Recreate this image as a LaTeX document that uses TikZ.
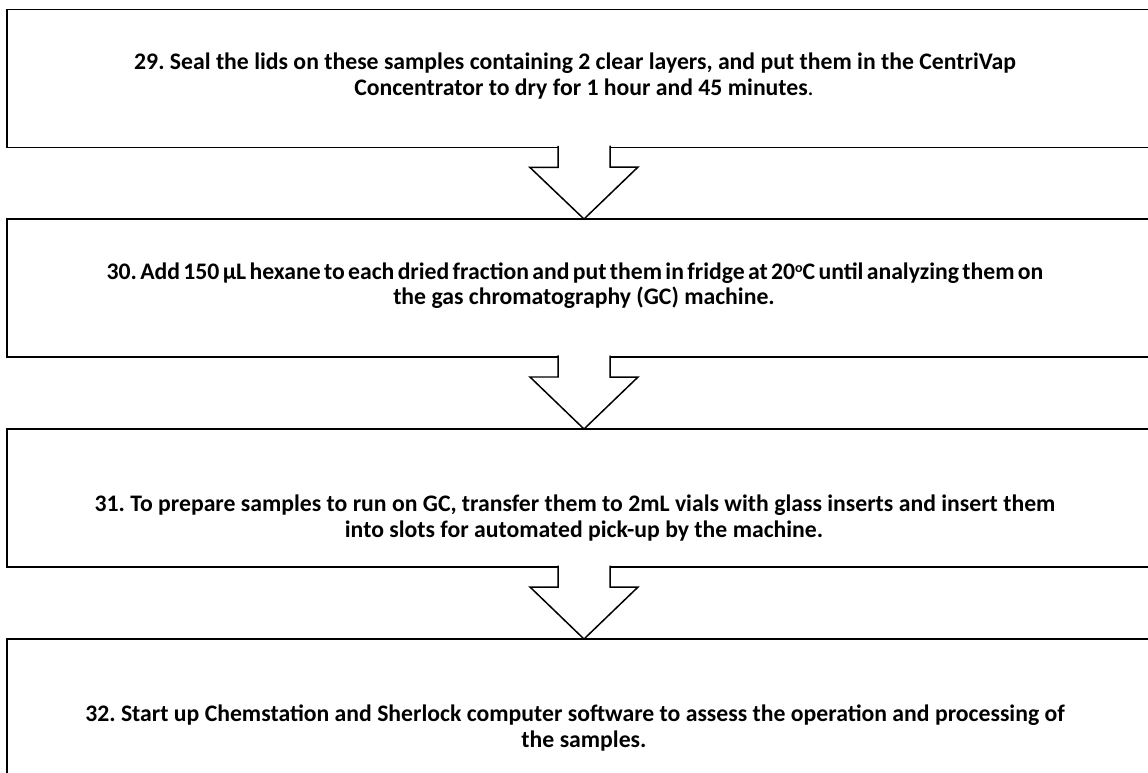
\documentclass[tikz,border=0pt]{standalone}
\usepackage{fontspec}
\setmainfont{Carlito}
\usepackage{tikz}
\frenchspacing

\begin{document}
\begin{tikzpicture}[x=0.02cm, y=-0.02cm, semithick,
        stepbox/.style={draw, line width=1.1pt, outer sep=0pt, minimum width=23.08cm, minimum height=2.76cm},
        steptext/.style={align=center, font=\fontsize{13.5pt}{14.4pt}\selectfont\bfseries},
        blockarrow/.style={draw, fill=white, line width=0.85pt, line join=miter}]
        \useasboundingbox (0, 0) rectangle (1148, 772);
        \clip (0, 0) rectangle (1148, 772);
		\node[stepbox] (s29) at (584, 78.5) {};
		\node[stepbox] (s30) at (584, 288) {};
		\node[stepbox] (s31) at (584, 498) {};
		\node[stepbox] (s32) at (584, 708) {};
		\node[steptext] (t29) at (584, 76) {29. Seal the lids on these samples containing 2 clear layers, and put them in the CentriVap\hspace*{0.36cm}\\Concentrator to dry for 1 hour and 45 minutes{\mdseries .}};
		\node[steptext] (t30) at (584, 285.5) {\spaceskip=0.14em 30. Add 150 µL hexane to each dried fraction and put them in fridge at 20{\raisebox{0.55ex}{\fontsize{8pt}{8pt}\selectfont o}}C until analyzing them on\hspace*{0.36cm}\\the gas chromatography (GC) machine.};
		\node[steptext] (t31) at (584, 518) {31. To prepare samples to run on GC, transfer them to 2mL vials with glass inserts and insert them\hspace*{0.36cm}\\into slots for automated pick-up by the machine.};
		\node[steptext] (t32) at (584, 728) {32. Start up Chemstation and Sherlock computer software to assess the operation and processing of\hspace*{0.36cm}\\the samples.};
		\foreach \a/\b in {s29/s30, s30/s31, s31/s32}
		    \draw[blockarrow] (\a.south) ++(-26, -1.5) -- ++(0, 21.5) -- ++(-28, 0) -- (\b.north) -- ++(54, -52) -- ++(-28, 0) -- ++(0, -21.5);
    \end{tikzpicture}
\end{document}
